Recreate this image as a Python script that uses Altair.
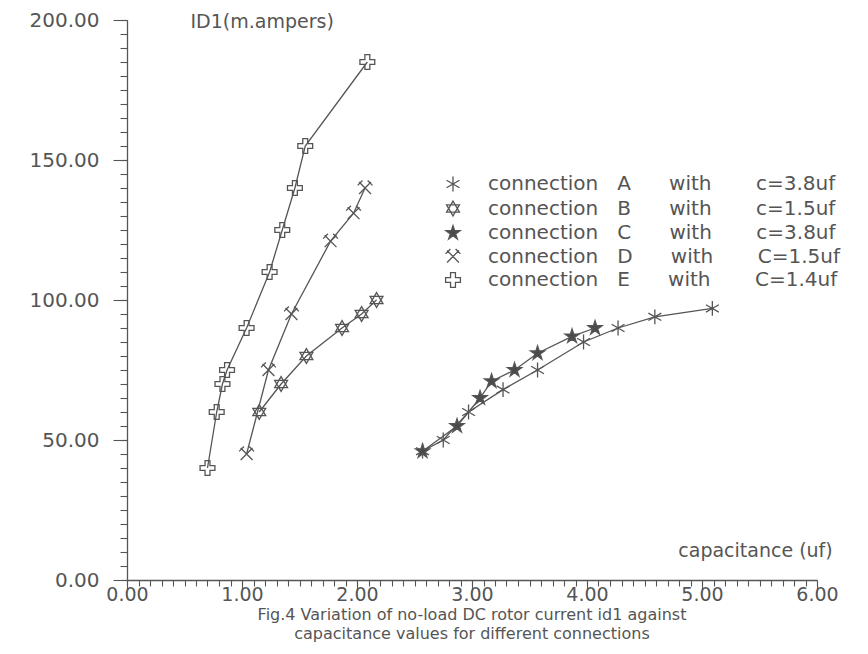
import altair as alt
import pandas as pd

NB = "\u00a0"

# ---- data ----
letters = ["A", "B", "C", "D", "E"]
caps = ["c=3.8uf", "c=1.5uf", "c=3.8uf", "C=1.5uf", "C=1.4uf"]
labels = [f"connection{NB * 3}{l}{NB * 6}with{NB * 7}{c}" for l, c in zip(letters, caps)]

A_c = [2.57, 2.75, 2.97, 3.27, 3.57, 3.97, 4.27, 4.59, 5.09]
A_id = [46, 50, 60, 68, 75, 85, 90, 94, 97]

B_c = [1.15, 1.34, 1.56, 1.87, 2.04, 2.17]
B_id = [60, 70, 80, 90, 95, 100]

C_c = [2.57, 2.87, 3.07, 3.17, 3.37, 3.57, 3.87, 4.07]
C_id = [46, 55, 65, 71, 75, 81, 87, 90]

D_c = [1.04, 1.23, 1.43, 1.77, 1.97, 2.07]
D_id = [45, 75, 95, 121, 131, 140]

E_c = [0.70, 0.78, 0.83, 0.87, 1.04, 1.24, 1.35, 1.46, 1.55, 2.09]
E_id = [40, 60, 70, 75, 90, 110, 125, 140, 155, 185]

x_major = [0, 1, 2, 3, 4, 5, 6]
x_minor = [round(i * 0.1, 1) for i in range(61)]
y_major = [0, 50, 100, 150, 200]
y_minor = list(range(0, 201, 5))

caption = [
    "Fig.4 Variation of no-load DC rotor current id1 against",
    "capacitance values for different connections",
]

# ---- build table ----
rows = []
for lab, xs, ys in zip(labels, [A_c, B_c, C_c, D_c, E_c], [A_id, B_id, C_id, D_id, E_id]):
    for x, y in zip(xs, ys):
        rows.append({"series": lab, "c": x, "id": y})
df = pd.DataFrame(rows)

# marker shapes (SVG paths in a -1..1 box)
asterisk = "M0,-1L0,1M-0.87,-0.5L0.87,0.5M-0.87,0.5L0.87,-0.5"
hexagram = "M0,-1L0.87,0.5L-0.87,0.5ZM0,1L0.87,-0.5L-0.87,-0.5Z"
star5 = ("M0,-1L0.224,-0.308L0.951,-0.309L0.361,0.117L0.588,0.809L0,0.38"
         "L-0.588,0.809L-0.361,0.117L-0.951,-0.309L-0.224,-0.308Z")
xcap = "M-0.8,0.8L0.8,-0.8M-0.8,-0.8L0.8,0.8M-1,-0.35L-0.35,-1M0.35,-1L1,-0.35"
cross = ("M-0.33,-1L0.33,-1L0.33,-0.33L1,-0.33L1,0.33L0.33,0.33L0.33,1"
         "L-0.33,1L-0.33,0.33L-1,0.33L-1,-0.33L-0.33,-0.33Z")
shapes = [asterisk, hexagram, star5, xcap, cross]
fills = ["rgba(255,255,255,0)", "rgba(255,255,255,0)", "#4a4a4a",
         "rgba(255,255,255,0)", "rgba(255,255,255,0)"]

FONT = "DejaVu Sans"
GREY = "#555555"

xs_scale = alt.Scale(domain=[0, 6], nice=False, zero=False)
ys_scale = alt.Scale(domain=[0, 200], nice=False, zero=False)

minor = alt.Chart(df).mark_point(opacity=0).encode(
    x=alt.X("c:Q", scale=xs_scale,
            axis=alt.Axis(values=x_minor, labels=False, domain=False, tickSize=6,
                          title=None, orient="bottom", grid=False)),
    y=alt.Y("id:Q", scale=ys_scale,
            axis=alt.Axis(values=y_minor, labels=False, domain=False, tickSize=7,
                          title=None, orient="left", grid=False)),
)

lines = alt.Chart(df).mark_line(color=GREY, strokeWidth=1.3).encode(
    x=alt.X("c:Q", scale=xs_scale,
            axis=alt.Axis(values=x_major, format=".2f", tickSize=9, orient="bottom",
                          grid=False, labelPadding=-4, labelFontSize=19,
                          labelFlush=False, labelOverlap=False,
                          title="capacitance (uf)", titleX=628, titleY=-30,
                          titleAlign="center", titleBaseline="middle", titleAngle=0)),
    y=alt.Y("id:Q", scale=ys_scale,
            axis=alt.Axis(values=y_major, format=".2f", tickSize=14, orient="left",
                          grid=False, labelPadding=14, labelFontSize=20,
                          labelFlush=False, labelOverlap=False,
                          title="ID1(m.ampers)", titleAngle=0, titleX=63, titleY=1,
                          titleAlign="left", titleBaseline="middle")),
    detail="series:N",
    order="c:Q",
)

leg = alt.Legend(
    title=None, orient="none", legendX=316, legendY=154,
    labelFont=FONT, labelFontSize=20, labelColor=GREY, labelOffset=25,
    symbolSize=220, symbolStrokeColor=GREY, symbolStrokeWidth=1.3,
    rowPadding=2.5, labelLimit=600,
)

points = alt.Chart(df).mark_point(filled=True, stroke=GREY, strokeWidth=1.3,
                                  size=220, opacity=1).encode(
    x=alt.X("c:Q", scale=xs_scale, axis=None),
    y=alt.Y("id:Q", scale=ys_scale, axis=None),
    shape=alt.Shape("series:N", scale=alt.Scale(domain=labels, range=shapes), legend=leg),
    color=alt.Color("series:N", scale=alt.Scale(domain=labels, range=fills), legend=leg),
)

chart = (
    alt.layer(minor, lines, points)
    .resolve_scale(x="independent", y="independent")
    .properties(
        width=690, height=560,
        autosize="none",
        padding={"left": 119, "top": 12, "right": 43, "bottom": 66},
        title=alt.TitleParams(text=caption, orient="bottom", anchor="middle",
                              font=FONT, fontSize=16, fontWeight="normal",
                              color=GREY, offset=3, lineHeight=19),
    )
    .configure_view(stroke=None)
    .configure_axis(labelFont=FONT, titleFont=FONT, labelColor=GREY, titleColor=GREY,
                    titleFontSize=19, titleFontWeight="normal",
                    domainColor=GREY, tickColor=GREY, domainWidth=1.3, tickWidth=1.1)
)

chart.save("out.html", embed_options={"renderer": "svg", "actions": False})
